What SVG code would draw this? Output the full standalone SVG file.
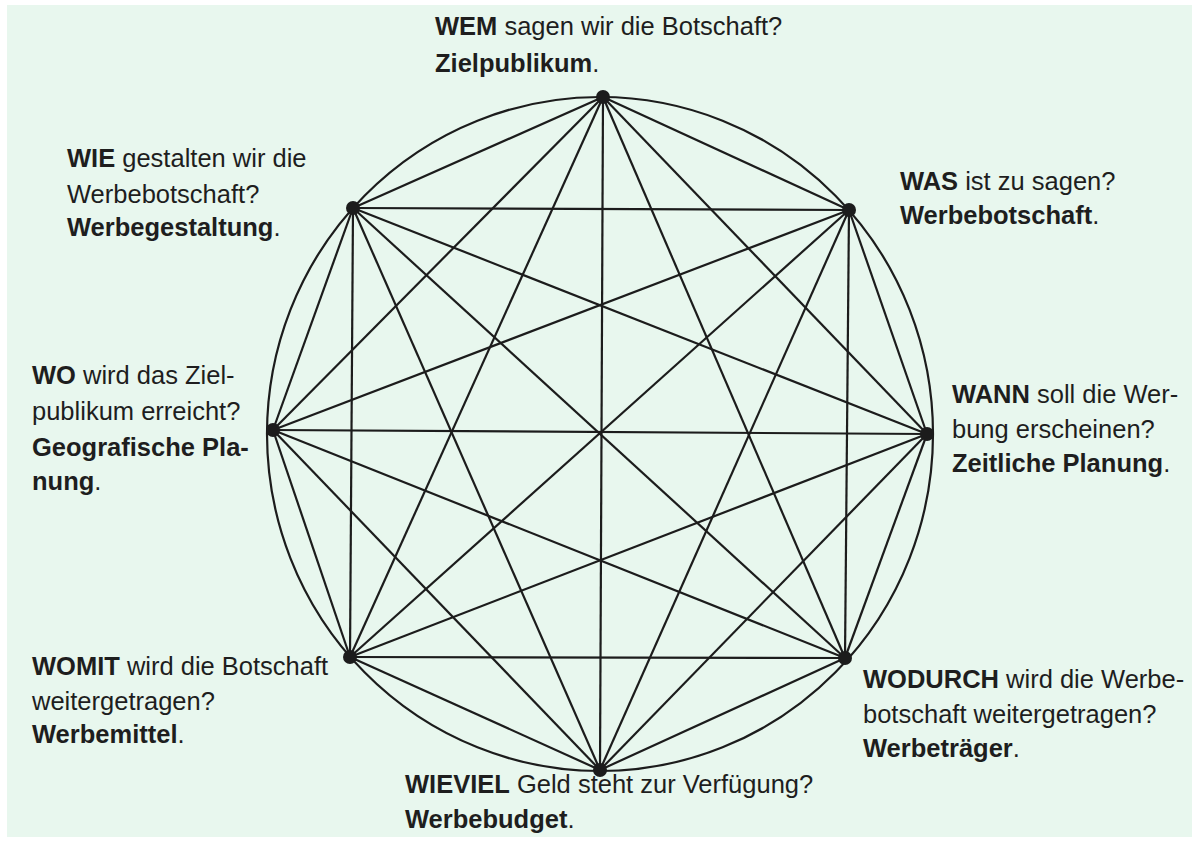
<svg xmlns="http://www.w3.org/2000/svg" width="1197" height="841" viewBox="0 0 1197 841">
<style>
.bg{fill:#e8f7ee}
.ring{fill:none;stroke:#1c1c1c;stroke-width:2.2}
.c line{stroke:#1c1c1c;stroke-width:2.2}
.dot{fill:#1c1c1c}
text{font-family:"Liberation Sans",Arial,sans-serif;font-size:25.5px;fill:#1e1e1e}
.b{font-weight:bold}
</style>
<rect width="1197" height="841" fill="#ffffff"/>
<rect class="bg" x="7" y="5" width="1185" height="832"/>
<ellipse class="ring" cx="600" cy="434" rx="333" ry="337"/>
<g id="connectors" class="c">
<line x1="603" y1="97" x2="849" y2="210"/>
<line x1="603" y1="97" x2="927" y2="434"/>
<line x1="603" y1="97" x2="845" y2="658"/>
<line x1="603" y1="97" x2="600" y2="770"/>
<line x1="603" y1="97" x2="350" y2="657"/>
<line x1="603" y1="97" x2="273" y2="430"/>
<line x1="603" y1="97" x2="353" y2="208"/>
<line x1="849" y1="210" x2="927" y2="434"/>
<line x1="849" y1="210" x2="845" y2="658"/>
<line x1="849" y1="210" x2="600" y2="770"/>
<line x1="849" y1="210" x2="350" y2="657"/>
<line x1="849" y1="210" x2="273" y2="430"/>
<line x1="849" y1="210" x2="353" y2="208"/>
<line x1="927" y1="434" x2="845" y2="658"/>
<line x1="927" y1="434" x2="600" y2="770"/>
<line x1="927" y1="434" x2="350" y2="657"/>
<line x1="927" y1="434" x2="273" y2="430"/>
<line x1="927" y1="434" x2="353" y2="208"/>
<line x1="845" y1="658" x2="600" y2="770"/>
<line x1="845" y1="658" x2="350" y2="657"/>
<line x1="845" y1="658" x2="273" y2="430"/>
<line x1="845" y1="658" x2="353" y2="208"/>
<line x1="600" y1="770" x2="350" y2="657"/>
<line x1="600" y1="770" x2="273" y2="430"/>
<line x1="600" y1="770" x2="353" y2="208"/>
<line x1="350" y1="657" x2="273" y2="430"/>
<line x1="350" y1="657" x2="353" y2="208"/>
<line x1="273" y1="430" x2="353" y2="208"/>
</g>
<g id="node-wem">
<circle class="dot" cx="603" cy="97" r="7"/>
<text x="435" y="35"><tspan class="b">WEM</tspan> sagen wir die Botschaft?</text>
<text x="435" y="72"><tspan class="b">Zielpublikum</tspan>.</text>
</g>
<g id="node-was">
<circle class="dot" cx="849" cy="210" r="7"/>
<text x="900" y="190"><tspan class="b">WAS</tspan> ist zu sagen?</text>
<text x="900" y="224"><tspan class="b">Werbebotschaft</tspan>.</text>
</g>
<g id="node-wann">
<circle class="dot" cx="927" cy="434" r="7"/>
<text x="952" y="403"><tspan class="b">WANN</tspan> soll die Wer-</text>
<text x="952" y="438">bung erscheinen?</text>
<text x="952" y="472"><tspan class="b">Zeitliche Planung</tspan>.</text>
</g>
<g id="node-wodurch">
<circle class="dot" cx="845" cy="658" r="7"/>
<text x="863" y="688"><tspan class="b">WODURCH</tspan> wird die Werbe-</text>
<text x="863" y="723">botschaft weitergetragen?</text>
<text x="863" y="757"><tspan class="b">Werbeträger</tspan>.</text>
</g>
<g id="node-wieviel">
<circle class="dot" cx="600" cy="770" r="7"/>
<text x="405" y="793"><tspan class="b">WIEVIEL</tspan> Geld steht zur Verfügung?</text>
<text x="405" y="828"><tspan class="b">Werbebudget</tspan>.</text>
</g>
<g id="node-womit">
<circle class="dot" cx="350" cy="657" r="7"/>
<text x="32" y="675"><tspan class="b">WOMIT</tspan> wird die Botschaft</text>
<text x="32" y="710">weitergetragen?</text>
<text x="32" y="743"><tspan class="b">Werbemittel</tspan>.</text>
</g>
<g id="node-wo">
<circle class="dot" cx="273" cy="430" r="7"/>
<text x="32" y="384"><tspan class="b">WO</tspan> wird das Ziel-</text>
<text x="32" y="420">publikum erreicht?</text>
<text x="32" y="456"><tspan class="b">Geografische Pla-</tspan></text>
<text x="32" y="490"><tspan class="b">nung</tspan>.</text>
</g>
<g id="node-wie">
<circle class="dot" cx="353" cy="208" r="7"/>
<text x="67" y="167"><tspan class="b">WIE</tspan> gestalten wir die</text>
<text x="67" y="203">Werbebotschaft?</text>
<text x="67" y="236"><tspan class="b">Werbegestaltung</tspan>.</text>
</g>
</svg>
